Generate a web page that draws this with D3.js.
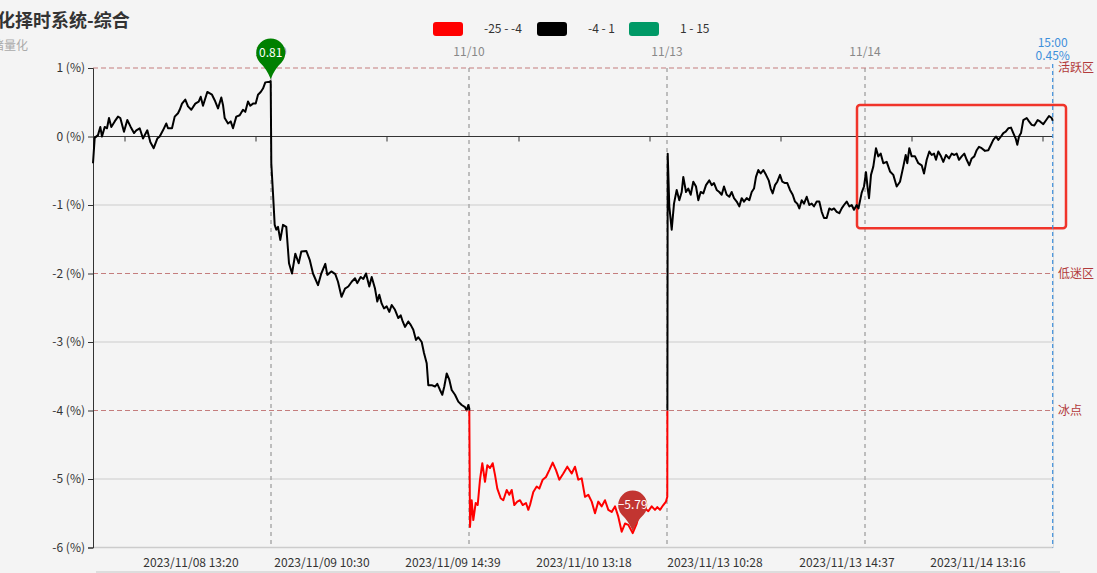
<!DOCTYPE html>
<html><head><meta charset="utf-8">
<script src="https://cdn.jsdelivr.net/npm/d3@7"></script>
<style>
html,body{margin:0;padding:0;background:#f4f4f4;overflow:hidden;}
svg{display:block;font-family:'Noto Sans CJK SC','Noto Sans',sans-serif;}
</style></head><body>
<svg id="chart" width="1097" height="573"></svg>
<script>
// ---------------- data ----------------
const titleText = "量化择时系统-综合";
const subtitleText = "情绪量化";
const legendLabels = ["-25 - -4", "-4 - 1", "1 - 15"];
const legendColors = ["#ff0000", "#000000", "#009966"];
const pieceBounds = [-25, -4, 1, 15];
const yTicks = [1, 0, -1, -2, -3, -4, -5, -6];
const gridLevels = [-1, -3, -5];
const markLevels = [1, -2, -4];
const markLabels = ["活跃区", "低迷区", "冰点"];
const dayIndex = [178, 376, 574, 772];
const dayLabels = ["11/09", "11/10", "11/13", "11/14"];
const xLabelIndex = [98, 229, 360, 491, 622, 754, 885];
const xLabels = ["2023/11/08 13:20", "2023/11/09 10:30", "2023/11/09 14:39", "2023/11/10 13:18",
                 "2023/11/13 10:28", "2023/11/13 14:37", "2023/11/14 13:16"];
const zeroTickIndex = [32, 163, 294, 426, 557, 688, 819, 950];
const lastLabel = ["15:00", "0.45%"];
const highlightIndex = [764, 973];
const highlightValues = [0.46, -1.34];

const sampleIndex = [
  0,1.7,5,7.3,9,11.7,14,16,18.3,21.7,
  25,27.3,31,34.3,37.7,41,43.3,46.7,50,54.3,
  57.3,60.7,64.3,66.7,70,73.3,75,79,81.7,85,
  86.7,89,92.3,95,98.3,102.3,105.7,107.7,110,114.3,
  119,121.7,125,128.3,130,131.7,135,137.7,140,143.3,
  146.7,150,152.3,155,157.3,160,162.7,165,167.7,170,
  172.3,176.7,177.7,
  178.3,180,181.7,183.3,185,187.3,190,193.3,196,199,
  202.3,205.7,208.3,213.3,216.7,220,225,228.3,232.3,234.3,
  238.3,242.3,245,248.5,252,255.3,258.7,262,264.3,267.7,
  270.3,273,276.3,278.7,282,284.3,286.3,288.7,291,293.7,
  296.3,298.7,302,305.3,307.7,309.7,312,315.3,317.7,320.3,
  323,325.3,328.7,331,333.7,335.3,338.7,342,344.3,347,
  349.3,351.3,353.7,356.3,358.7,362,365.3,368.7,372,373.7,
  375.3,376.3,
  377,378.7,380.3,382.7,384.7,387,389.3,392,394.3,397,
  399.7,402,404.3,407.7,410.3,413.7,416.3,418.7,421.3,424.3,
  427,429.7,433,435.3,437,440.3,443.7,446.3,449.7,453,
  456.3,459.7,463,466.3,470.3,474.3,478.7,482,485.3,488.7,
  492,495.3,498.7,502,505.3,508.7,512,515.3,518.7,522,
  525.3,528.7,532,535.3,539.7,543.7,546,548.7,552,555.3,
  558.7,562,564.3,567,570.3,573,574.3,
  574.7,576.3,578.7,581,583.7,586.3,588.7,590.3,593,595.3,
  597.7,600.3,603,605.3,607.7,610.3,613,616.3,618.7,621,
  623.7,626.3,628.7,631,633.7,636.3,638.7,641,643.7,646.3,
  648.7,651,653.7,656.3,658.7,661,663,665.3,667.7,670.3,
  673,675.7,677.7,679.7,682,684.3,687,689.3,692,694.3,
  697,699.7,702,704.3,706.3,708.7,711,713.7,716.3,718.7,
  721,723.7,726.3,728.7,731,733.7,736.3,738.7,741,743.7,
  746.3,748.7,751,753.7,756.3,758.7,761,763.7,765.5,768.7,
  771,
  773,774.7,776,778,780.3,783,785.3,787.7,790.3,793.7,
  797,800.3,803.7,807,810.3,812.7,814.3,816.3,818.7,822,
  825.3,828.7,831,833.7,836.3,838.7,841,843,845.3,848,
  850.3,853,856,858.7,861.3,863.7,866,868.7,871.3,873.7,
  876.3,878.7,881.3,883.7,886,888.7,892,895.3,898,900.3,
  903,905.3,908,910.3,912.7,915.3,918,920.3,922.7,924.3,
  926,928,930.3,933.7,936,938.7,941.3,944.7,947,950.3,
  952.7,956,958.7,959.7
];
const sampleValues = [
  -0.39,-0.02,0.02,0.14,0,0.14,0.12,0.27,0.14,0.22,
  0.29,0.27,0.07,0.24,0.14,0.05,0.09,0.12,-0.03,0.09,
  -0.08,-0.17,-0.03,0,0.09,0.19,0.12,0.12,0.29,0.34,
  0.39,0.48,0.54,0.44,0.39,0.48,0.51,0.58,0.45,0.65,
  0.61,0.53,0.41,0.57,0.46,0.27,0.19,0.22,0.12,0.29,
  0.31,0.39,0.36,0.51,0.45,0.48,0.48,0.61,0.65,0.70,
  0.79,0.80,0.81,
  -0.39,-0.83,-1.29,-1.36,-1.32,-1.51,-1.29,-1.32,-1.85,-2.0,
  -1.71,-1.85,-1.68,-1.67,-1.80,-2.0,-2.17,-2.0,-1.86,-2.02,
  -1.97,-2.01,-2.12,-2.34,-2.22,-2.19,-2.12,-2.07,-2.14,-2.05,
  -2.08,-2.0,-2.19,-2.05,-2.22,-2.41,-2.31,-2.44,-2.51,-2.48,
  -2.56,-2.46,-2.53,-2.65,-2.61,-2.70,-2.78,-2.70,-2.75,-2.82,
  -2.97,-2.93,-3.0,-3.16,-3.31,-3.63,-3.63,-3.65,-3.61,-3.70,
  -3.77,-3.65,-3.46,-3.55,-3.70,-3.77,-3.87,-3.92,-3.95,-4.0,
  -3.92,-3.97,
  -5.70,-5.31,-5.60,-5.35,-5.38,-5.01,-4.77,-5.04,-4.80,-4.84,
  -4.77,-4.94,-5.14,-5.28,-5.31,-5.16,-5.23,-5.16,-5.38,-5.33,
  -5.31,-5.38,-5.35,-5.45,-5.38,-5.19,-5.11,-5.14,-5.01,-4.97,
  -4.87,-4.76,-4.87,-5.01,-4.92,-4.82,-4.92,-4.82,-5.01,-4.99,
  -5.26,-5.23,-5.33,-5.50,-5.33,-5.40,-5.31,-5.45,-5.48,-5.40,
  -5.55,-5.77,-5.65,-5.67,-5.79,-5.65,-5.52,-5.50,-5.43,-5.47,
  -5.40,-5.45,-5.41,-5.45,-5.38,-5.33,-5.26,
  -0.25,-1.02,-1.36,-0.98,-0.78,-0.93,-0.81,-0.59,-0.81,-0.76,
  -0.85,-0.66,-0.73,-0.93,-0.81,-0.83,-0.71,-0.64,-0.71,-0.68,
  -0.78,-0.81,-0.85,-0.73,-0.85,-0.88,-0.81,-0.90,-0.95,-1.02,
  -0.90,-0.95,-0.90,-0.93,-0.81,-0.76,-0.59,-0.49,-0.54,-0.49,
  -0.56,-0.64,-0.76,-0.83,-0.71,-0.66,-0.56,-0.66,-0.68,-0.68,
  -0.78,-0.85,-0.95,-0.98,-1.05,-0.93,-0.98,-0.88,-1.0,-0.98,
  -1.02,-0.95,-0.95,-1.10,-1.19,-1.19,-1.05,-1.07,-1.05,-1.10,
  -1.12,-1.05,-1.0,-0.95,-1.02,-1.0,-1.07,-1.0,-1.05,-0.82,
  -0.73,
  -0.52,-0.76,-0.90,-0.56,-0.44,-0.17,-0.29,-0.25,-0.39,-0.37,
  -0.51,-0.56,-0.73,-0.66,-0.44,-0.27,-0.39,-0.17,-0.29,-0.29,
  -0.39,-0.42,-0.54,-0.34,-0.22,-0.27,-0.25,-0.34,-0.22,-0.29,
  -0.37,-0.27,-0.32,-0.25,-0.27,-0.25,-0.34,-0.29,-0.25,-0.34,
  -0.42,-0.32,-0.29,-0.20,-0.15,-0.17,-0.21,-0.20,-0.12,-0.05,
  0.0,-0.05,0.0,0.05,0.07,0.12,0.13,0.05,-0.03,-0.12,
  0.0,0.05,0.24,0.27,0.22,0.17,0.16,0.24,0.22,0.18,
  0.23,0.30,0.27,0.23
];

// ---------------- drawing ----------------
const svg = d3.select("#chart");
const x = d3.scaleLinear().domain([0, 960]).range([93, 1053]);
const y = d3.scaleLinear().domain([-6, 1]).range([547.5, 68]);
const data = sampleIndex.map((t, i) => ({t, v: sampleValues[i]}));

svg.append("rect").attr("width", 1097).attr("height", 573).attr("fill", "#f4f4f4");

// title
svg.append("text").attr("x", -21).attr("y", 27).attr("font-size", 18).attr("font-weight", "bold")
  .attr("fill", "#333").text(titleText);
svg.append("text").attr("x", -20).attr("y", 50).attr("font-size", 12)
  .attr("fill", "#aaa").text(subtitleText);

// legend
const legendX = [433, 537, 629];
legendColors.forEach((c, i) => {
  svg.append("rect").attr("x", legendX[i]).attr("y", 22).attr("width", 30).attr("height", 14)
    .attr("rx", 3).attr("fill", c);
  svg.append("text").attr("x", legendX[i] + 51).attr("y", 29).attr("dy", "0.35em")
    .attr("font-size", 12).attr("fill", "#333").text(legendLabels[i]);
});

// grid lines
svg.append("g").selectAll("line").data(gridLevels).join("line")
  .attr("x1", x(0)).attr("x2", x(960)).attr("y1", d => y(d)).attr("y2", d => y(d))
  .attr("stroke", "#cccccc").attr("stroke-width", 1);
// bottom axis
svg.append("line").attr("x1", x(0)).attr("x2", x(960)).attr("y1", y(-6)).attr("y2", y(-6))
  .attr("stroke", "#cccccc").attr("stroke-width", 1.5);
// right edge
svg.append("line").attr("x1", x(960) + 0.5).attr("x2", x(960) + 0.5).attr("y1", y(1)).attr("y2", y(-6))
  .attr("stroke", "#dddddd").attr("stroke-width", 1);

// day separators
svg.append("g").selectAll("line").data(dayIndex).join("line")
  .attr("x1", d => x(d)).attr("x2", d => x(d)).attr("y1", y(1)).attr("y2", y(-6))
  .attr("stroke", "#aaaaaa").attr("stroke-width", 1.5).attr("stroke-dasharray", "4,4");
svg.append("g").selectAll("text").data(dayIndex).join("text")
  .attr("x", d => x(d)).attr("y", 56).attr("text-anchor", "middle").attr("font-size", 12)
  .attr("fill", "#888").text((d, i) => dayLabels[i]);

// mark lines
svg.append("g").selectAll("line").data(markLevels).join("line")
  .attr("x1", x(0)).attr("x2", x(960)).attr("y1", d => y(d)).attr("y2", d => y(d))
  .attr("stroke", "#c47d7d").attr("stroke-width", 1.2).attr("stroke-dasharray", "5,3");
svg.append("g").selectAll("text").data(markLevels).join("text")
  .attr("x", x(960) + 5).attr("y", d => y(d)).attr("dy", "0.35em").attr("font-size", 12)
  .attr("fill", "#b23b3b").text((d, i) => markLabels[i]);

// zero axis
svg.append("line").attr("x1", x(0)).attr("x2", x(960)).attr("y1", y(0)).attr("y2", y(0))
  .attr("stroke", "#333").attr("stroke-width", 1);
svg.append("g").selectAll("line").data(zeroTickIndex).join("line")
  .attr("x1", d => x(d)).attr("x2", d => x(d)).attr("y1", y(0)).attr("y2", y(0) + 5)
  .attr("stroke", "#333").attr("stroke-width", 1);

// y axis
const yAxis = d3.axisLeft(y).tickValues(yTicks).tickSize(5).tickFormat(d => d + " (%)");
const yg = svg.append("g").attr("transform", `translate(${x(0)},0)`).call(yAxis);
yg.select(".domain").attr("stroke", "#333");
yg.selectAll(".tick line").attr("stroke", "#333");
yg.selectAll(".tick text").attr("font-size", 12).attr("fill", "#333")
  .attr("font-family", "'Noto Sans CJK SC','Noto Sans',sans-serif").attr("x", -8);

// bottom labels
svg.append("g").selectAll("text").data(xLabelIndex).join("text")
  .attr("x", d => x(d)).attr("y", 563).attr("dy", "0.35em").attr("text-anchor", "middle")
  .attr("font-size", 12).attr("fill", "#333").text((d, i) => xLabels[i]);

// data zoom strip
svg.append("line").attr("x1", 96).attr("x2", 1060).attr("y1", 572).attr("y2", 572)
  .attr("stroke", "#dddddd").attr("stroke-width", 2);

// highlight box
svg.append("rect").attr("x", x(highlightIndex[0])).attr("y", y(highlightValues[0]))
  .attr("width", x(highlightIndex[1]) - x(highlightIndex[0]))
  .attr("height", y(highlightValues[1]) - y(highlightValues[0]))
  .attr("rx", 3).attr("fill", "none").attr("stroke", "#f0342a").attr("stroke-width", 2.5);

// last point marker line
const last = data[data.length - 1];
svg.append("line").attr("x1", x(last.t)).attr("x2", x(last.t)).attr("y1", y(1) - 4).attr("y2", y(-6))
  .attr("stroke", "#3e8fdb").attr("stroke-width", 1.2).attr("stroke-dasharray", "4,3");
svg.append("text").attr("x", x(last.t)).attr("y", 43).attr("dy", "0.35em").attr("text-anchor", "middle")
  .attr("font-size", 12).attr("fill", "#3e8fdb").text(lastLabel[0]);
svg.append("text").attr("x", x(last.t)).attr("y", 56).attr("dy", "0.35em").attr("text-anchor", "middle")
  .attr("font-size", 12).attr("fill", "#3e8fdb").text(lastLabel[1]);

// colored line via clipping (piecewise visual map)
const defs = svg.append("defs");
const line = d3.line().x(d => x(d.t)).y(d => y(d.v));
for (let i = 0; i < 3; i++) {
  const id = "clip" + i;
  const topY = i === 2 ? -100 : y(pieceBounds[i + 1]);
  const botY = i === 0 ? 900 : y(pieceBounds[i]);
  defs.append("clipPath").attr("id", id).append("rect")
    .attr("x", 0).attr("width", 1097).attr("y", topY).attr("height", botY - topY);
  svg.append("path").datum(data).attr("d", line).attr("fill", "none")
    .attr("stroke", legendColors[i]).attr("stroke-width", 2).attr("stroke-linejoin", "round")
    .attr("clip-path", `url(#${id})`);
}

// pins for max / min
function pinPath(cx, tipY, r, h) {
  const cy = tipY - h;
  const a = Math.PI * 0.27;
  const lx = cx - r * Math.sin(a), rx = cx + r * Math.sin(a), ly = cy + r * Math.cos(a);
  return `M${cx},${tipY} Q${cx - r * 0.3},${ly + 6} ${lx},${ly} A${r},${r} 0 1 1 ${rx},${ly} Q${cx + r * 0.3},${ly + 6} ${cx},${tipY} Z`;
}
const maxD = data[d3.maxIndex(data, d => d.v)];
const minD = data[d3.minIndex(data, d => d.v)];
[[maxD, "#008000"], [minD, "#c23531"]].forEach(([d, c]) => {
  const tipY = y(d.v) - 2;
  svg.append("path").attr("d", pinPath(x(d.t), tipY, 14.5, 26)).attr("fill", c);
  svg.append("text").attr("x", x(d.t)).attr("y", tipY - 26).attr("dy", "0.35em").attr("text-anchor", "middle")
    .attr("font-size", 12).attr("fill", "#fff").text(d3.format(".2f")(d.v));
});
</script>
</body></html>
